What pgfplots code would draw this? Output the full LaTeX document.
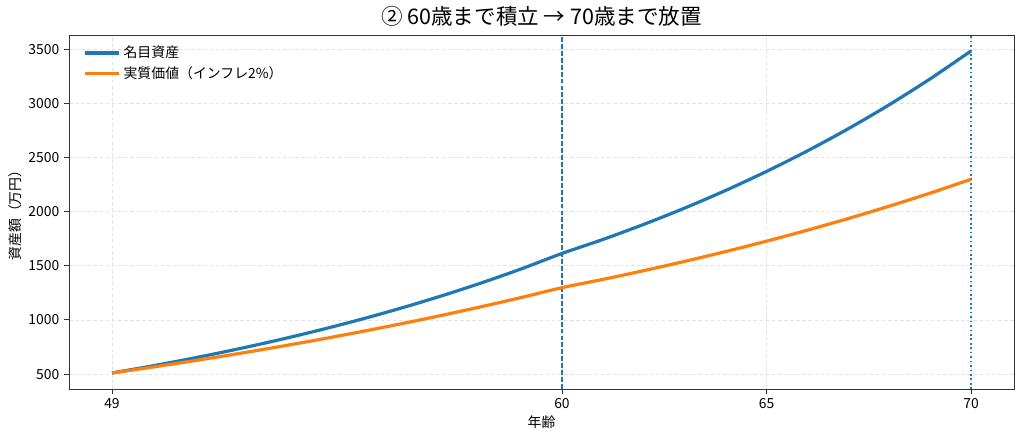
\documentclass[border=0pt]{standalone}
\usepackage{fontspec}
\setmainfont{Noto Sans CJK JP}
\usepackage{pgfplots}
\pgfplotsset{compat=1.18}
\definecolor{tabblue}{HTML}{1F77B4}
\definecolor{taborange}{HTML}{FF7F0E}
\definecolor{spine}{HTML}{333333}
\begin{document}
\begin{tikzpicture}
\useasboundingbox (-49.7pt,-38.9pt) rectangle (687.6pt,280.1pt);
\begin{axis}[
  at={(0,0)}, anchor=south west,
  scale only axis, width=680.4pt, height=254.9pt,
  xmin=47.95, xmax=71.05, ymin=362, ymax=3630,
  xtick={49,60,65,70}, ytick={500,1000,...,3500},
  font=\fontsize{10}{12}\selectfont,
  /pgf/number format/assume math mode=true,
  /pgf/number format/1000 sep={},
  tick align=outside, tick pos=left,
  major tick length=3.5pt,
  every tick/.style={spine, line width=0.6pt},
  axis line style={spine, line width=0.7pt},
  grid=major,
  major grid style={gray!22, dash pattern=on 2.6pt off 1.8pt, line width=0.5pt},
  xlabel={年齢}, ylabel={資産額（万円）},
  xlabel style={yshift=2pt},
  ylabel style={yshift=-2pt},
  title={\fontsize{15.5}{18}\selectfont ② 60歳まで積立 → 70歳まで放置},
  title style={yshift=-3pt},
  legend style={draw=none, fill=none, at={(0.01,0.985)}, anchor=north west, font=\fontsize{10}{12}\selectfont, row sep=1pt},
  legend cell align=left,
  legend image code/.code={\draw[#1] (0pt,0pt) -- (21pt,0pt); \path (0pt,0pt) -- (25pt,0pt);},
]
\addplot[tabblue, line width=1.0pt, dash pattern=on 3.5pt off 1.5pt, forget plot] coordinates {(60,362) (60,3630)};
\addplot[tabblue, line width=1.2pt, dash pattern=on 1.2pt off 2pt, forget plot] coordinates {(70,362) (70,3630)};
\addplot[tabblue, line width=2.3pt, smooth] coordinates {
(49,510) (50,576.3) (51,647.9) (52,725.2) (53,808.7) (54,898.9) (55,996.3)
(56,1101.5) (57,1215.1) (58,1337.8) (59,1470.3) (60,1613.4) (61,1742.5)
(62,1881.9) (63,2032.4) (64,2195.0) (65,2370.6) (66,2560.2) (67,2765.0)
(68,2986.2) (69,3225.1) (70,3483.1)};
\addlegendentry{名目資産}
\addplot[taborange, line width=2.3pt, smooth] coordinates {
(49,510) (50,565.0) (51,622.7) (52,683.4) (53,747.1) (54,814.2) (55,884.7)
(56,958.9) (57,1037.0) (58,1119.4) (59,1206.2) (60,1297.6) (61,1374.0)
(62,1454.8) (63,1540.3) (64,1630.9) (65,1726.8) (66,1828.4) (67,1936.0)
(68,2049.8) (69,2170.5) (70,2298.0)};
\addlegendentry{実質価値（インフレ2\%）}
\end{axis}
\end{tikzpicture}
\end{document}
